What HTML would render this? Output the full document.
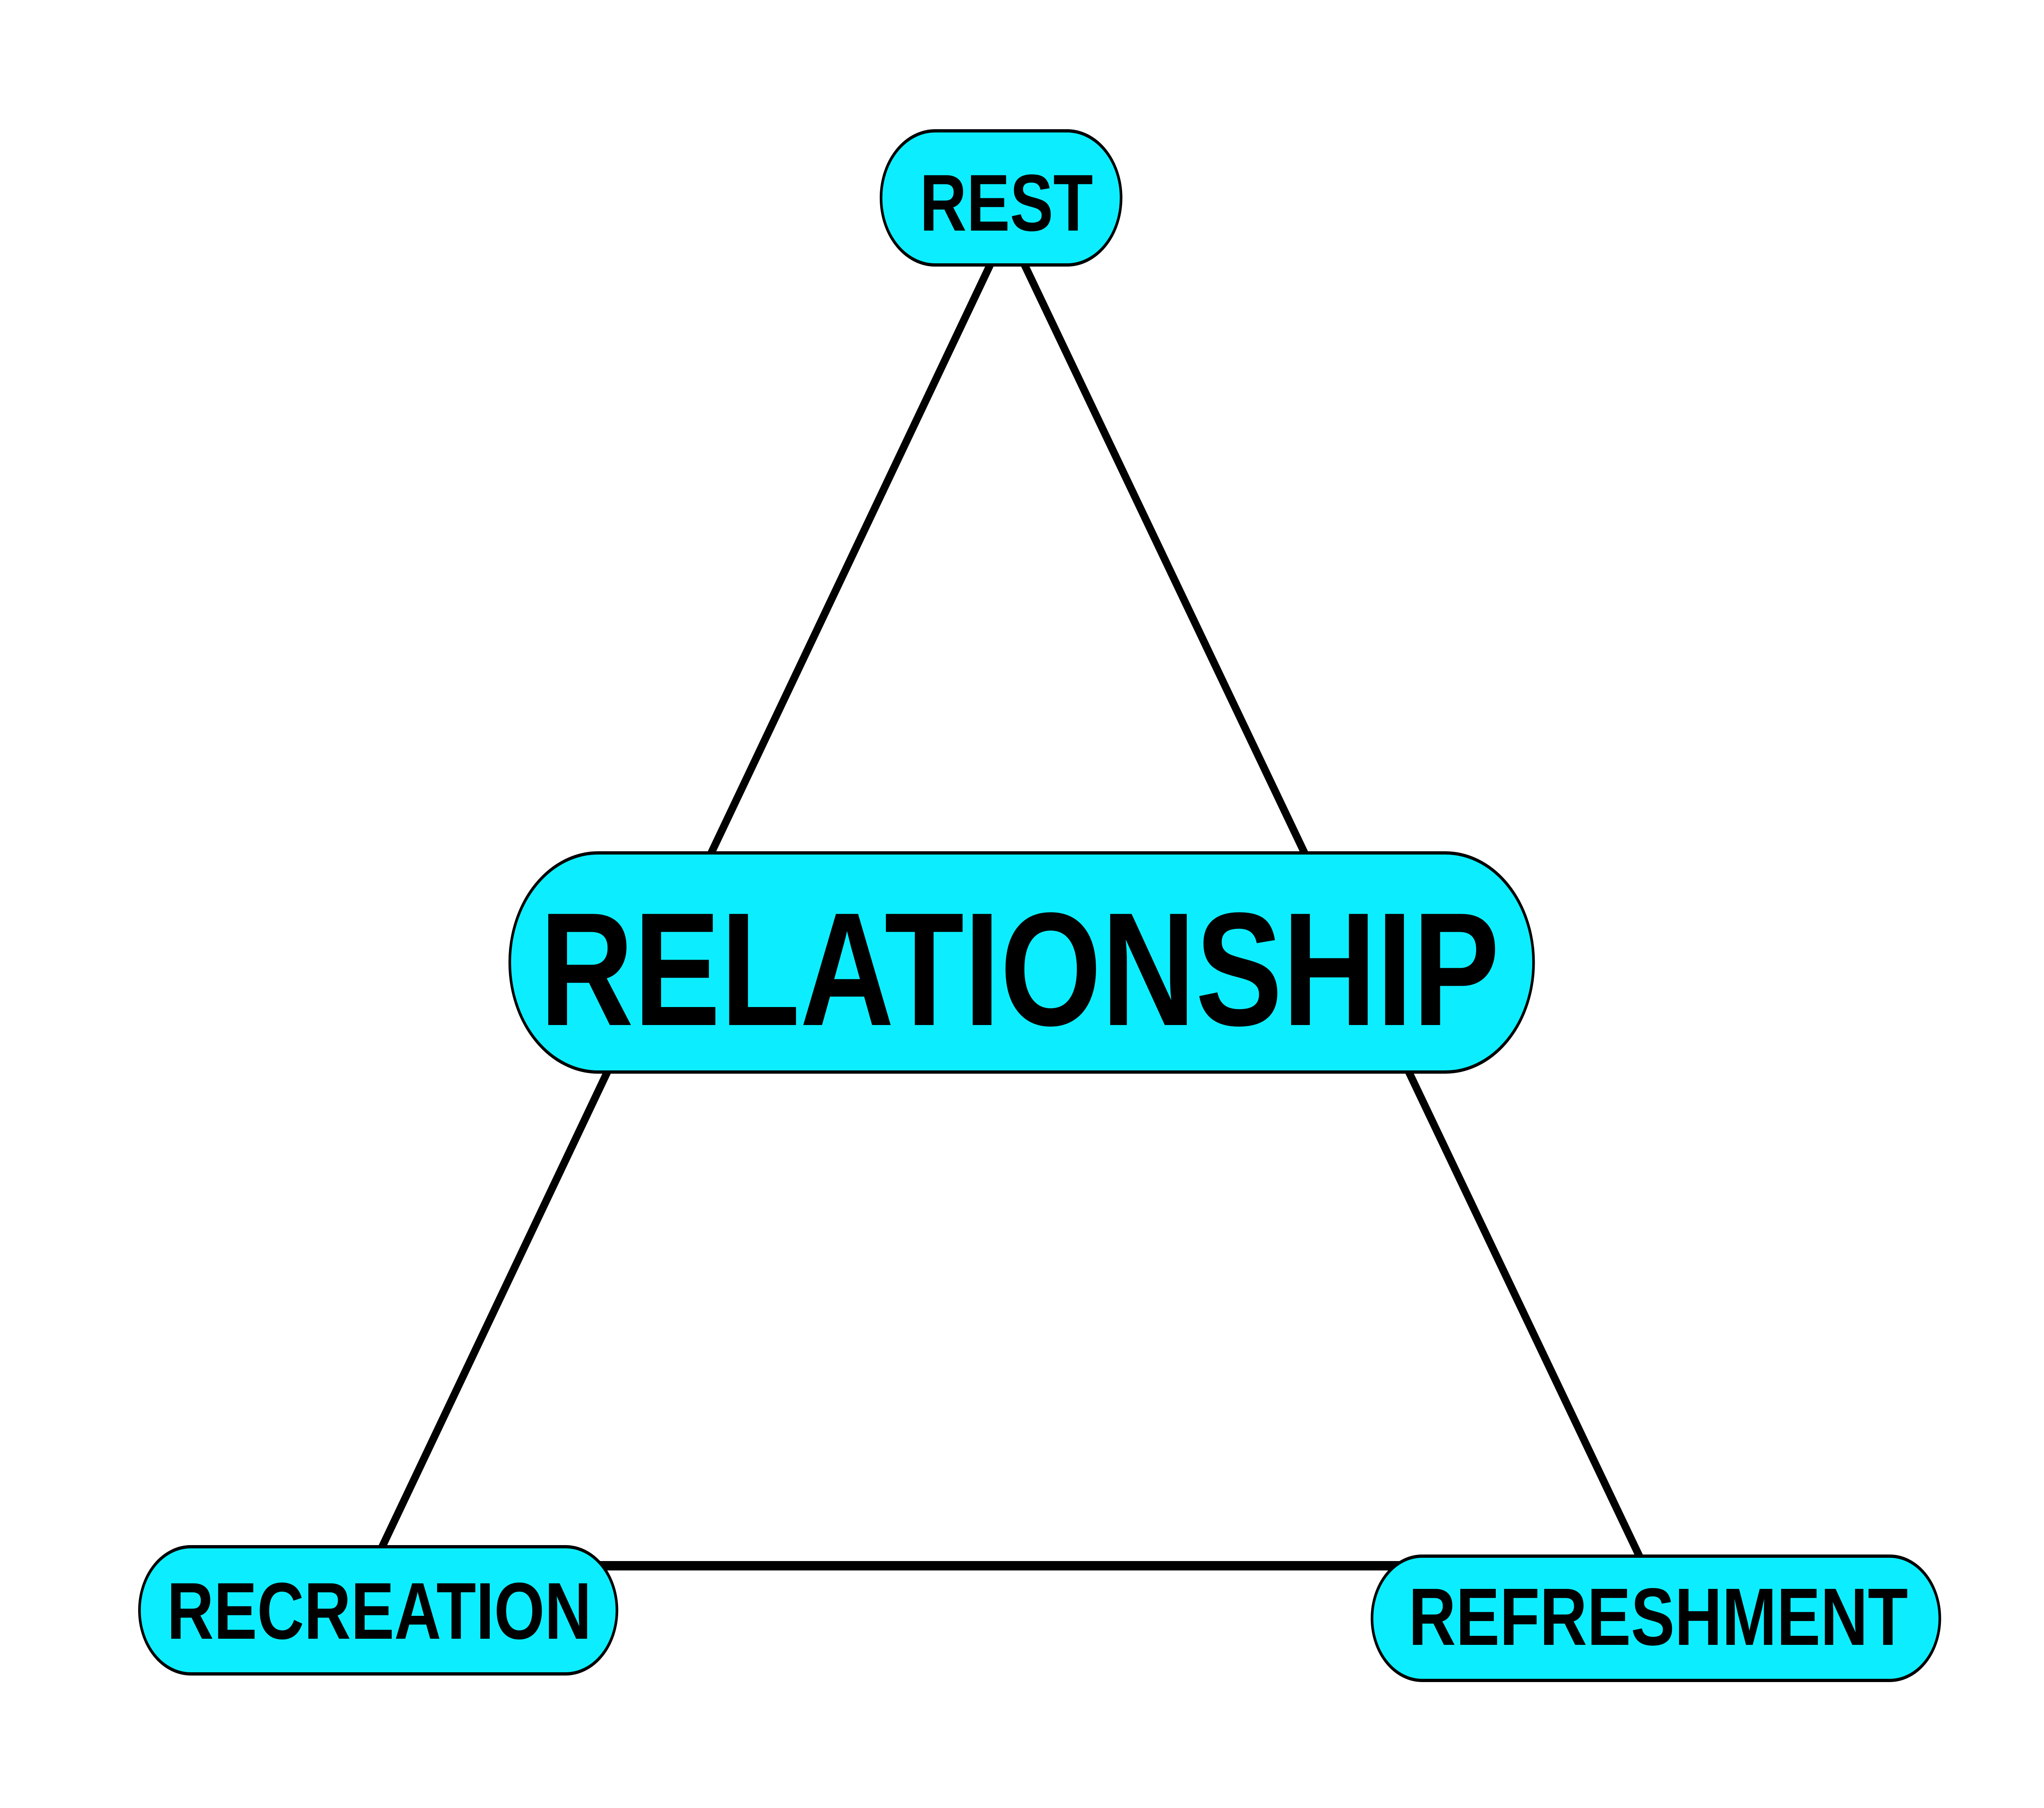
<!DOCTYPE html>
<html>
<head>
<meta charset="utf-8">
<style>
  html, body { margin: 0; padding: 0; background: #ffffff; width: 100%; height: 100%; overflow: hidden; }
  svg { display: block; position: fixed; left: 0; top: 0; width: 100vw; height: 100vh; }
  text { font-family: "Liberation Sans", Arial, sans-serif; font-weight: bold; fill: #000; }
</style>
</head>
<body>
<svg viewBox="0 0 6199 4422" preserveAspectRatio="none" xmlns="http://www.w3.org/2000/svg">
  <rect x="0" y="0" width="6199" height="4422" fill="#ffffff"/>

  <!-- connectors -->
  <line x1="3031" y1="600" x2="1149" y2="3800" stroke="#000" stroke-width="22"/>
  <line x1="3079" y1="600" x2="4986" y2="3830" stroke="#000" stroke-width="22"/>
  <line x1="1800" y1="3829.5" x2="4250" y2="3829.5" stroke="#000" stroke-width="23"/>

  <!-- REST -->
  <rect x="2672" y="320" width="728" height="328" rx="164" ry="164" fill="#0CEEFF" stroke="#000" stroke-width="8"/>
  <text x="3052" y="564" font-size="197" text-anchor="middle">REST</text>

  <!-- RELATIONSHIP -->
  <rect x="1546" y="2086" width="3105" height="536" rx="268" ry="268" fill="#0CEEFF" stroke="#000" stroke-width="8"/>
  <text x="3092" y="2507" font-size="395" text-anchor="middle">RELATIONSHIP</text>

  <!-- RECREATION -->
  <rect x="423" y="3783" width="1448" height="311" rx="155.5" ry="155.5" fill="#0CEEFF" stroke="#000" stroke-width="8"/>
  <text x="1150" y="4008" font-size="197" text-anchor="middle">RECREATION</text>

  <!-- REFRESHMENT -->
  <rect x="4161" y="3806" width="1722" height="304" rx="152" ry="152" fill="#0CEEFF" stroke="#000" stroke-width="8"/>
  <text x="5029" y="4023" font-size="199" text-anchor="middle">REFRESHMENT</text>
</svg>
</body>
</html>
